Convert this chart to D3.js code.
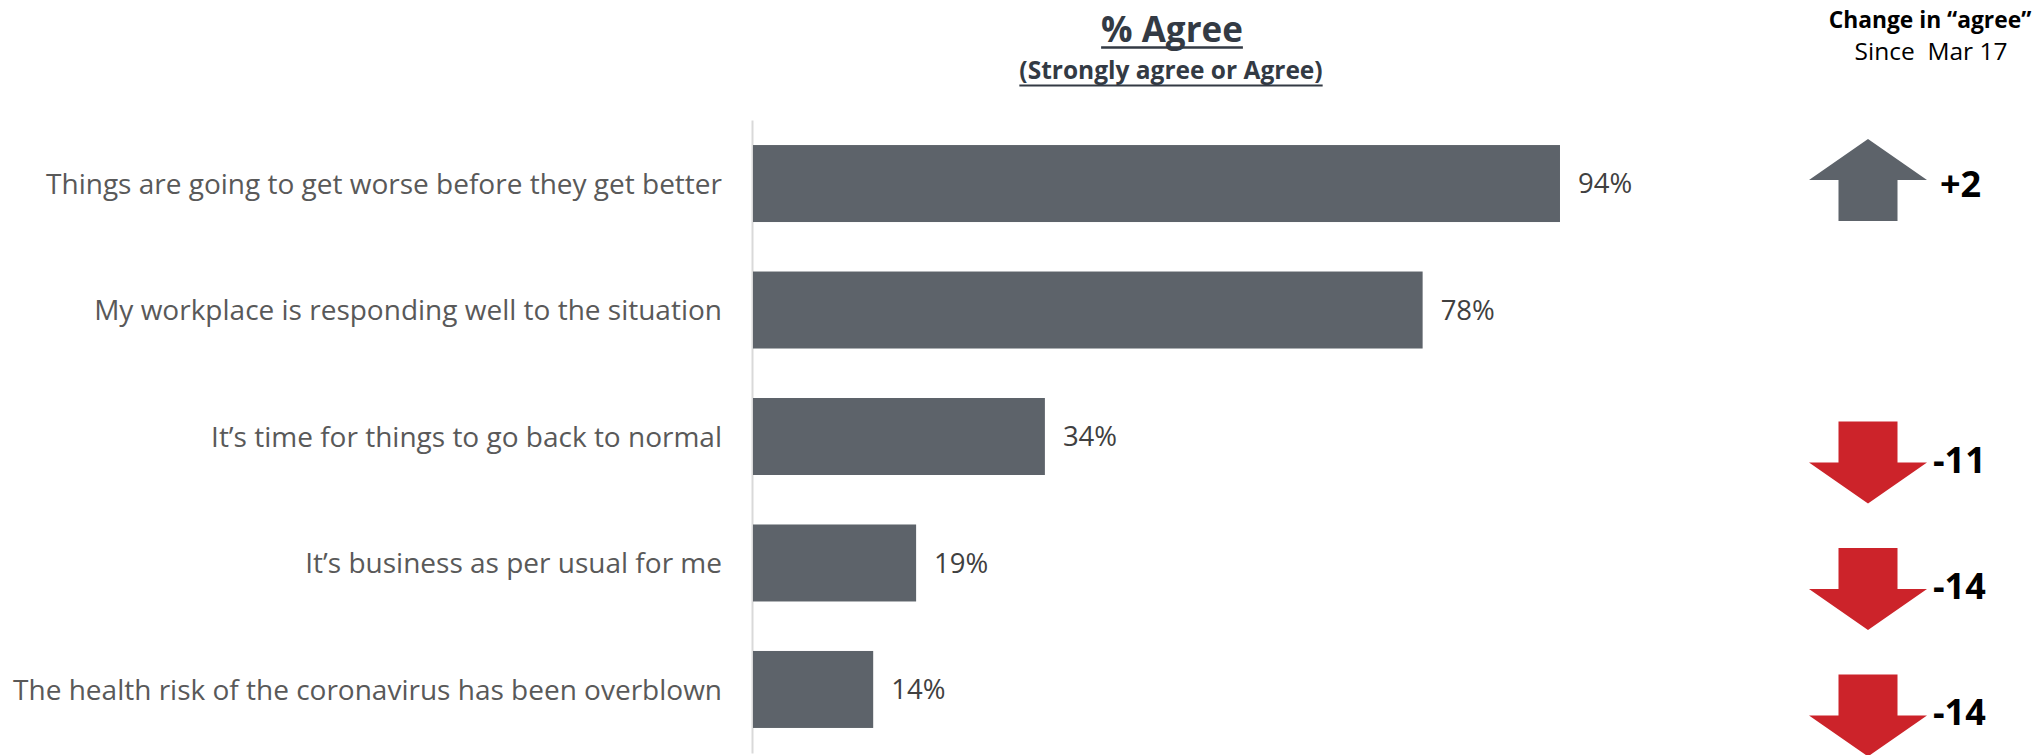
<!DOCTYPE html>
<html>
<head>
<meta charset="utf-8">
<script src="https://cdn.jsdelivr.net/npm/d3@7"></script>
<style>
  html, body { margin: 0; padding: 0; background: #ffffff; }
  svg { display: block; font-family: "Open Sans", sans-serif; }
</style>
</head>
<body>
<svg id="chart" width="2041" height="755"></svg>
<script>
// Survey statements and share who agree
const categories = [
  "Things are going to get worse before they get better",
  "My workplace is responding well to the situation",
  "It\u2019s time for things to go back to normal",
  "It\u2019s business as per usual for me",
  "The health risk of the coronavirus has been overblown"
];
const agreeValues = [94, 78, 34, 19, 14];
// Point change in "agree" since Mar 17 (null = no arrow shown)
const changeValues = [2, null, -11, -14, -14];

const titleText = "% Agree";
const subtitleText = "(Strongly agree or Agree)";
const changeHeader = "Change in \u201cagree\u201d";
const changeSubheader = "Since  Mar 17";

const barColor = "#5d636a";
const downColor = "#cc232a";

const svg = d3.select("#chart");

const x = d3.scaleLinear().domain([0, 100]).range([753, 1611.5]);
const y = d3.scaleBand()
  .domain(categories)
  .range([120, 753])
  .paddingInner(0.3913)
  .paddingOuter(0.198);

// Category axis: light vertical rule with statements on the left
const axis = svg.append("g")
  .attr("transform", "translate(752,0)")
  .call(d3.axisLeft(y).tickSize(0).tickPadding(30));
axis.select(".domain").attr("stroke", "#d9d9d9").attr("stroke-width", 2);
axis.selectAll("text")
  .attr("fill", "#595959")
  .style("font-family", "'Open Sans', sans-serif")
  .style("font-size", "28px")
  .attr("dy", "0.36em");

// Bars
svg.append("g").selectAll("rect")
  .data(agreeValues)
  .join("rect")
  .attr("x", x(0))
  .attr("y", (d, i) => y(categories[i]))
  .attr("width", d => x(d) - x(0))
  .attr("height", y.bandwidth())
  .attr("fill", barColor);

// Value labels
svg.append("g").selectAll("text")
  .data(agreeValues)
  .join("text")
  .attr("x", d => x(d) + 18)
  .attr("y", (d, i) => y(categories[i]) + y.bandwidth() / 2)
  .attr("dy", "0.36em")
  .attr("fill", "#404040")
  .style("font-size", "27.5px")
  .text(d => d + "%");

// Underlined heading helper
function heading(text, cx, baseline, size, color, lineY, lineW) {
  const t = svg.append("text")
    .attr("x", cx).attr("y", baseline)
    .attr("text-anchor", "middle")
    .attr("fill", color)
    .style("font-size", size + "px")
    .style("font-weight", 700)
    .text(text);
  if (lineY != null) {
    const w = t.node().getComputedTextLength();
    svg.append("line")
      .attr("x1", cx - w / 2).attr("x2", cx + w / 2)
      .attr("y1", lineY).attr("y2", lineY)
      .attr("stroke", color).attr("stroke-width", lineW);
  }
  return t;
}

heading(titleText, 1172, 42, 35, "#333a44", 47.5, 2.6);
heading(subtitleText, 1171, 79, 24.5, "#333a44", 85.5, 2);

heading(changeHeader, 1930, 28, 22.8, "#000000", null, 0);
svg.append("text")
  .attr("x", 1931).attr("y", 60)
  .attr("text-anchor", "middle")
  .attr("fill", "#000000")
  .style("font-size", "24.5px")
  .style("white-space", "pre")
  .attr("xml:space", "preserve")
  .text(changeSubheader);

// Change arrows: block arrow 118 wide, shaft 59 wide, head 41 tall, total 82 tall
const arrowCx = 1868;
function arrowPath(up) {
  const hw = 59, sw = 29.5, head = 41, total = 82;
  const pts = up
    ? [[0, -total / 2], [hw, -total / 2 + head], [sw, -total / 2 + head], [sw, total / 2],
       [-sw, total / 2], [-sw, -total / 2 + head], [-hw, -total / 2 + head]]
    : [[0, total / 2], [hw, total / 2 - head], [sw, total / 2 - head], [sw, -total / 2],
       [-sw, -total / 2], [-sw, total / 2 - head], [-hw, total / 2 - head]];
  return d3.line()(pts) + "Z";
}

const changeRows = changeValues
  .map((v, i) => ({ v, cat: categories[i] }))
  .filter(d => d.v !== null);

const arrowG = svg.append("g").selectAll("g")
  .data(changeRows)
  .join("g")
  .attr("transform", d => {
    const cy = y(d.cat) + y.bandwidth() / 2 + (d.v > 0 ? -3.5 : 26);
    return `translate(${arrowCx},${cy})`;
  });

arrowG.append("path")
  .attr("d", d => arrowPath(d.v > 0))
  .attr("fill", d => d.v > 0 ? barColor : downColor);

arrowG.append("text")
  .attr("x", d => d.v > 0 ? 72 : 65)
  .attr("y", d => d.v > 0 ? 17 : 10)
  .attr("fill", "#000000")
  .style("font-size", "36px")
  .style("font-weight", 700)
  .text(d => (d.v > 0 ? "+" : "-") + Math.abs(d.v));
</script>
</body>
</html>
